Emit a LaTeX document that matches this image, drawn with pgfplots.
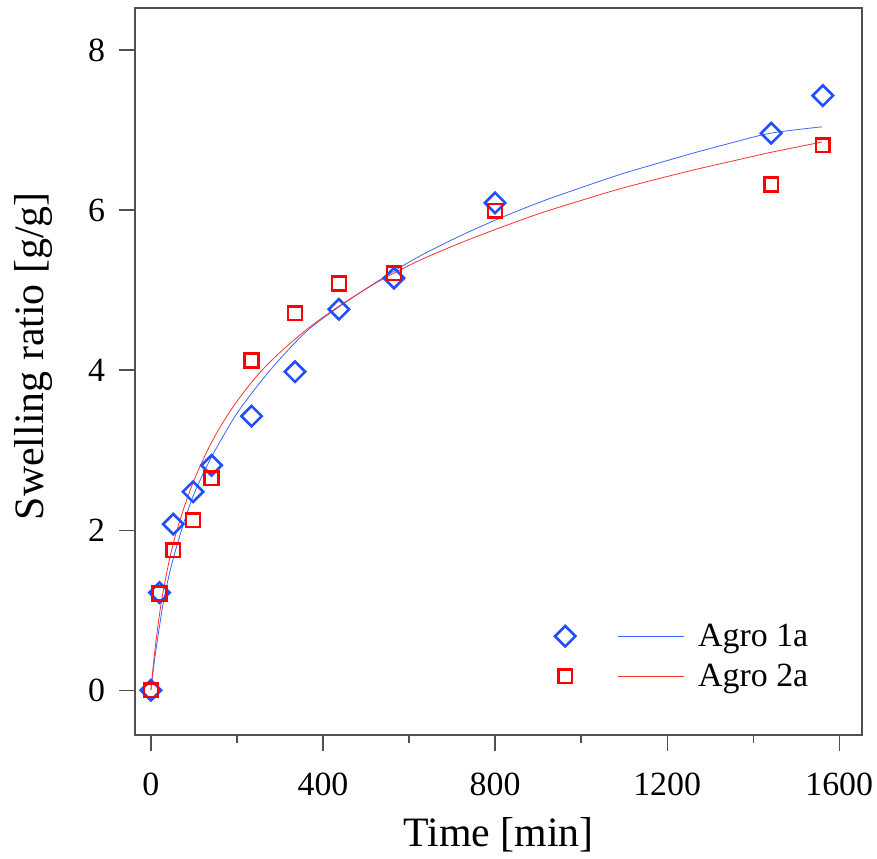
\documentclass[border=0pt]{standalone}
\usepackage{fontspec}
\setmainfont{Liberation Serif}
\usepackage{pgfplots}
\pgfplotsset{compat=1.18}
\definecolor{mblue}{HTML}{1F4FFF}
\definecolor{lblue}{HTML}{3A66FF}
\definecolor{mred}{HTML}{FF0000}
\definecolor{lred}{HTML}{FF3030}
\definecolor{axgray}{HTML}{505050}
\pgfplotsset{
  legmark/.style={legend image code/.code={\draw[##1] plot[only marks] coordinates {(0bp,0bp)}; \path (-12bp,0bp) (48bp,0bp);}},
  legline/.style={legend image code/.code={\draw[#1, line width=0.8pt] (0bp,0bp) -- (66bp,0bp); \path (0bp,0bp) (78bp,0bp);}},
}
\begin{document}
\begin{tikzpicture}
\begin{axis}[
  scale only axis, width=727bp, height=727bp,
  xmin=-37, xmax=1653, ymin=-0.56, ymax=8.525,
  xtick={0,400,800,1200,1600}, minor xtick={200,600,1000,1400},
  ytick={0,2,4,6,8},
  tick align=outside, xtick pos=bottom, ytick pos=left,
  major tick length=16bp, minor tick length=8bp,
  axis line style={axgray, line width=1.2pt},
  every tick/.style={axgray, line width=1.2pt},
  /pgf/number format/assume math mode=true,
  /pgf/number format/1000 sep={},
  tick label style={font=\fontsize{34}{40}\selectfont},
  xticklabel style={yshift=-18bp},
  yticklabel style={xshift=-10.5bp},
  label style={font=\fontsize{42}{48}\selectfont},
  xlabel={Time [min]}, ylabel={Swelling ratio [g/g]},
  xlabel style={at={(axis description cs:0.5,-0.154)}, anchor=base},
  ylabel style={at={(axis description cs:-0.1396,0.521)}, anchor=center},
  legend columns=2,
  legend style={draw=none, fill=none, inner sep=0pt, outer sep=0pt,
    at={(0.575,0.155)}, anchor=north west,
    font=\fontsize{34}{40}\selectfont, row sep=12bp,
    nodes={inner sep=2bp}},
  legend cell align=left,
]
\addplot[only marks, mark=square, mark size=7.2bp, draw=mblue,
  mark options={rotate=45, line width=2.6bp, draw=mblue}, legmark]
  coordinates {(0,0) (20,1.22) (52,2.075) (98,2.48) (141,2.81) (234,3.425) (335,3.98) (437,4.76) (565,5.15) (800,6.09) (1442,6.96) (1562,7.43)};
\addlegendentry{\mbox{}}
\addplot[lblue, line width=0.8pt, smooth, legline=lblue]
  coordinates {(0,0) (5,0.23) (10,0.44) (20,0.8) (30,1.13) (45,1.5) (60,1.8) (80,2.15) (100,2.45) (130,2.8) (160,3.1) (200,3.46) (250,3.82) (300,4.14) (365,4.5) (440,4.8) (530,5.12) (620,5.41) (720,5.68) (812,5.9) (905,6.1) (1000,6.28) (1100,6.46) (1253,6.7) (1350,6.84) (1440,6.96) (1560,7.04)};
\addlegendentry{Agro 1a}
\addplot[only marks, mark=square, mark size=6.9bp, draw=mred,
  mark options={line width=2.6bp, draw=mred}, legmark]
  coordinates {(0,0) (20,1.21) (52,1.75) (98,2.125) (141,2.65) (234,4.12) (335,4.71) (437,5.08) (565,5.21) (800,5.99) (1442,6.32) (1562,6.81)};
\addlegendentry{\mbox{}}
\addplot[lred, line width=0.8pt, smooth, legline=lred]
  coordinates {(0,0) (5,0.28) (10,0.53) (20,0.95) (30,1.28) (45,1.68) (60,1.99) (80,2.33) (100,2.62) (130,2.98) (160,3.28) (200,3.61) (250,3.95) (300,4.22) (365,4.52) (440,4.81) (530,5.11) (620,5.36) (720,5.59) (812,5.78) (905,5.96) (1000,6.12) (1100,6.28) (1253,6.49) (1350,6.61) (1440,6.72) (1560,6.85)};
\addlegendentry{Agro 2a}
\end{axis}
\pgfresetboundingbox
\path[use as bounding box] ([shift={(-135bp,-124bp)}]current axis.south west) rectangle ([shift={(15bp,8bp)}]current axis.north east);
\end{tikzpicture}
\end{document}
